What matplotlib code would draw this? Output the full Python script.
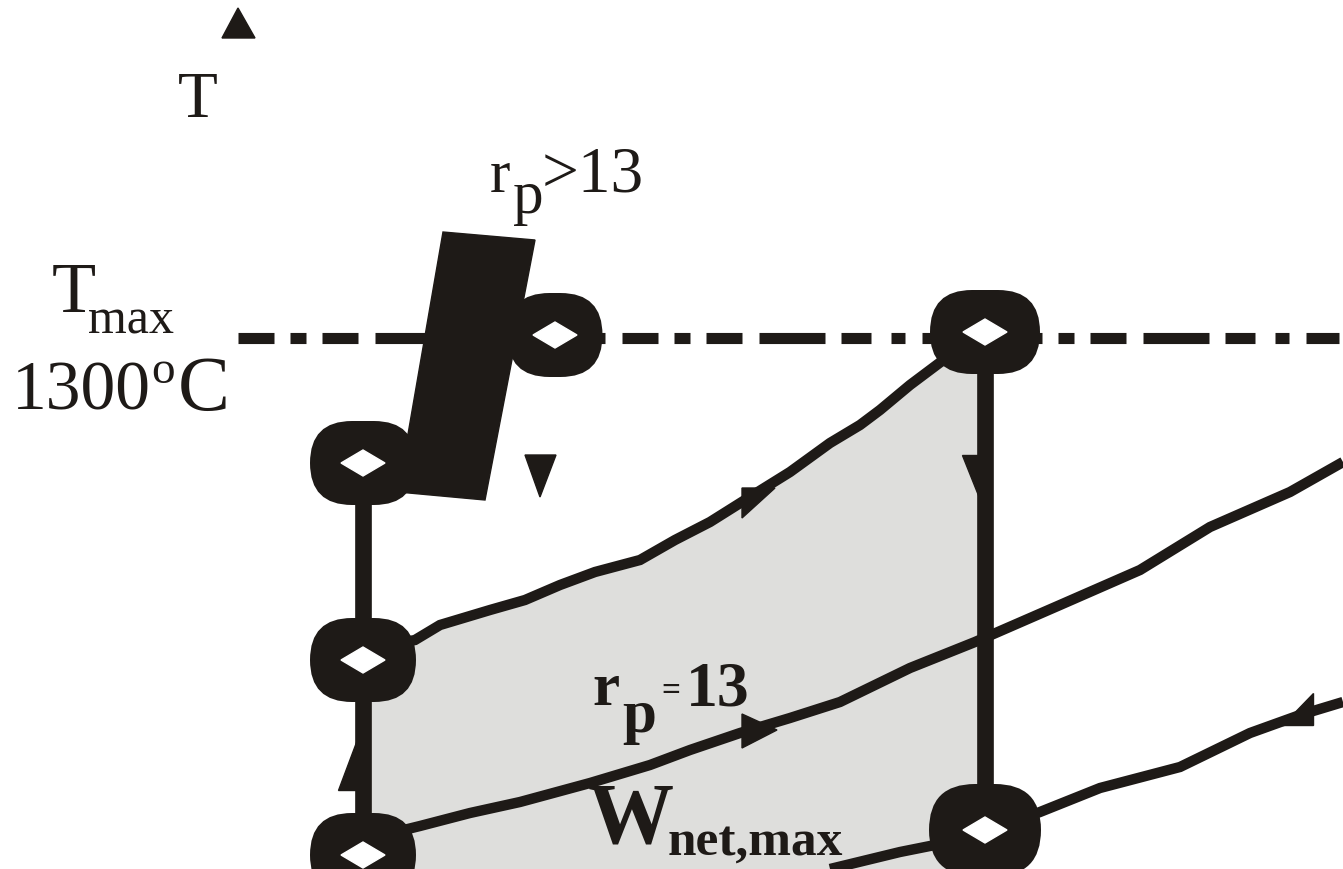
import matplotlib
matplotlib.use("Agg")
import matplotlib.pyplot as plt
from matplotlib.patches import FancyBboxPatch, Polygon

# ---- data (diagram coordinates, image-like: x right, y down) ----
top_curve_x = [363, 415, 440, 490, 525, 560, 595, 640, 675, 710, 745, 790, 830, 860, 880, 910, 950, 985]
top_curve_y = [650, 640, 625, 610, 600, 585, 572, 560, 540, 522, 500, 472, 443, 425, 410, 385, 355, 335]
mid_curve_x = [363, 420, 470, 520, 590, 650, 690, 740, 790, 840, 910, 975, 1060, 1140, 1210, 1290, 1343]
mid_curve_y = [840, 826, 813, 802, 783, 765, 750, 733, 718, 702, 668, 642, 605, 570, 527, 492, 462]
low_curve_x = [830, 900, 960, 990, 1040, 1100, 1180, 1250, 1300, 1343]
low_curve_y = [869, 852, 840, 830, 812, 788, 767, 733, 715, 702]
tmax_y = 338
left_s = 363
right_s = 985
state_x = [363, 363, 363, 555, 985, 985]
state_y = [463, 660, 855, 335, 332, 830]

fig = plt.figure(figsize=(13.43, 8.69), dpi=100)
ax = fig.add_axes([0, 0, 1, 1])
ax.set_xlim(0, 1343)
ax.set_ylim(869, 0)
ax.axis("off")

K = "#1e1a17"
G = "#dededc"

# shaded net work region
poly_x = [left_s] + top_curve_x + [right_s, left_s]
poly_y = [869] + top_curve_y + [869, 869]
ax.fill(poly_x, poly_y, color=G, zorder=1)

# Tmax dash-dot line
lw_d = 8.0
px = lw_d * 100 / 72.0
dash_px = [36, 16, 16, 16, 36, 17, 66, 16, 30, 20, 14, 17, 33, 17, 17, 17]
ax.plot([238, 1343], [tmax_y, tmax_y], color=K, lw=lw_d,
        ls=(0, tuple(d / px for d in dash_px)), dash_capstyle="butt", zorder=2)

# curves
for cx, cy in [(top_curve_x, top_curve_y), (mid_curve_x, mid_curve_y), (low_curve_x, low_curve_y)]:
    ax.plot(cx, cy, color=K, lw=7.5, zorder=3, solid_joinstyle="miter", solid_capstyle="butt")

# verticals
ax.plot([left_s, left_s], [460, 869], color=K, lw=12, zorder=3, solid_capstyle="butt")
ax.plot([right_s, right_s], [335, 830], color=K, lw=12, zorder=3, solid_capstyle="butt")

# state markers (rounded shapes with white diamond)
sizes = [(106, 84), (106, 84), (106, 84), (95, 84), (110, 84), (112, 92)]
for (x, y), (w, h) in zip(zip(state_x, state_y), sizes):
    ax.add_patch(FancyBboxPatch((x - w / 2, y - h / 2), w, h,
                                boxstyle="round,pad=0,rounding_size=%g" % (h * 0.5),
                                color=K, zorder=5, lw=0))
    ax.add_patch(Polygon([[x - 22, y], [x, y - 13], [x + 22, y], [x, y + 13]], closed=True,
                         color="white", zorder=6))

# big slanted block
ax.add_patch(Polygon([[443, 232], [535, 240], [485, 500], [398, 492]], closed=True, color=K, zorder=6.5))

# arrowheads
tris = [
    [[222, 38], [255, 38], [238, 8]],
    [[525, 455], [556, 455], [540, 497]],
    [[962, 455], [978, 455], [978, 495]],
    [[742, 488], [775, 488], [742, 518]],
    [[742, 714], [777, 730], [742, 748]],
    [[1282, 725], [1313, 725], [1313, 693]],
    [[338, 790], [356, 790], [356, 742]],
]
for t in tris:
    ax.add_patch(Polygon(t, closed=True, color=K, zorder=6))

serif = ["Liberation Serif", "DejaVu Serif"]
kw = dict(family=serif, color=K, ha="left", va="baseline", zorder=7)
ax.text(178, 117, "T", fontsize=47, **kw)
ax.text(490, 192, "r", fontsize=44, **kw)
ax.text(513, 213, "p", fontsize=44, **kw)
ax.text(542, 192, ">13", fontsize=47, **kw)
ax.text(52, 312, "T", fontsize=52, **kw)
ax.text(88, 333, "max", fontsize=36, **kw)
ax.text(12, 410, "1300", fontsize=50, **kw)
ax.text(151, 383, "o", fontsize=34, **kw)
ax.text(178, 410, "C", fontsize=56, **kw)
ax.text(592, 705, "r", fontsize=44, weight="bold", **kw)
ax.text(622, 732, "p", fontsize=44, weight="bold", **kw)
ax.text(661, 700, "=", fontsize=24, weight="bold", **kw)
ax.text(686, 705, "13", fontsize=46, weight="bold", **kw)
ax.text(588, 843, "W", fontsize=62, weight="bold", **kw)
ax.text(668, 855, "net,max", fontsize=37, weight="bold", **kw)

fig.savefig("out.png", dpi=100)
